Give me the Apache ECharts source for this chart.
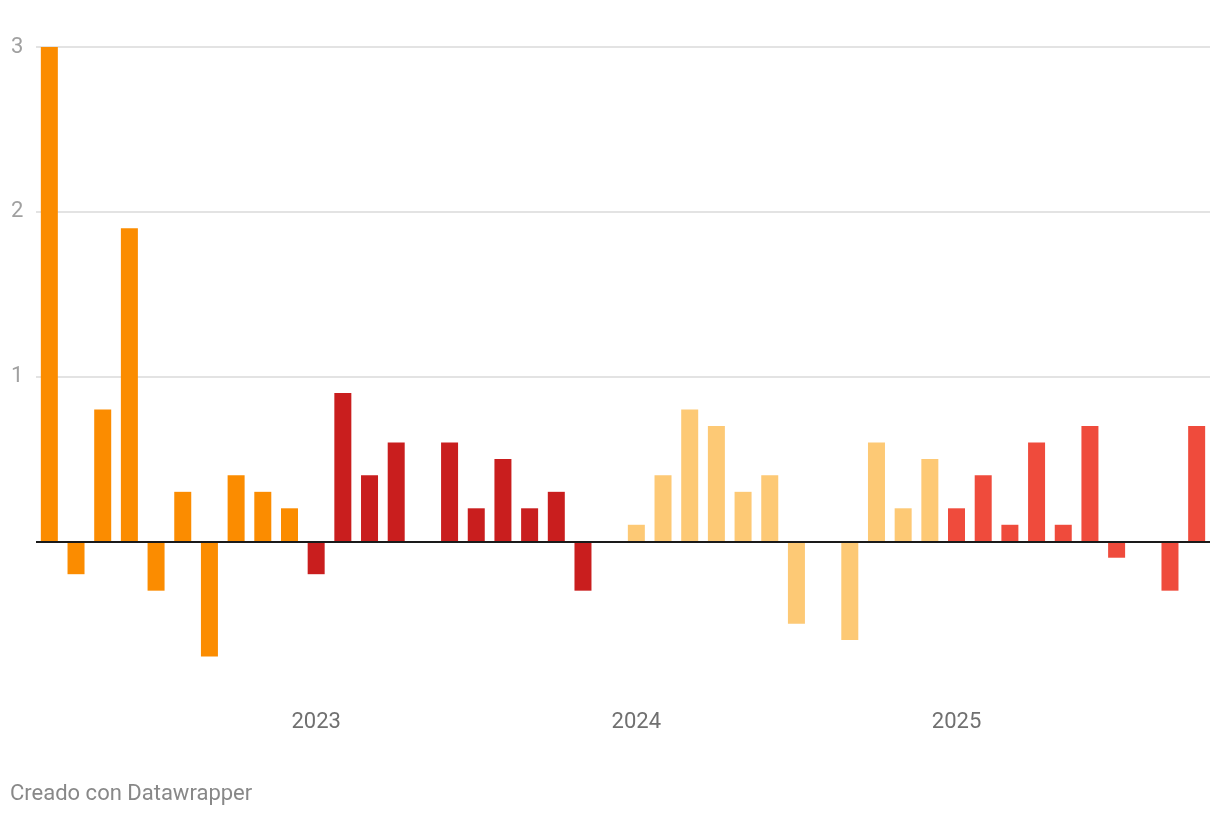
<!DOCTYPE html>
<html>
<head>
<meta charset="utf-8">
<script src="https://cdn.jsdelivr.net/npm/echarts@6/dist/echarts.min.js"></script>
<style>
html,body{margin:0;padding:0;background:#fff;}
#chart{width:1220px;height:816px;}
</style>
</head>
<body>
<div id="chart"></div>
<script>
// Monthly values, Mar 2022 – Oct 2025
const months = [
  '2022-03','2022-04','2022-05','2022-06','2022-07','2022-08','2022-09','2022-10','2022-11','2022-12',
  '2023-01','2023-02','2023-03','2023-04','2023-05','2023-06','2023-07','2023-08','2023-09','2023-10','2023-11','2023-12',
  '2024-01','2024-02','2024-03','2024-04','2024-05','2024-06','2024-07','2024-08','2024-09','2024-10','2024-11','2024-12',
  '2025-01','2025-02','2025-03','2025-04','2025-05','2025-06','2025-07','2025-08','2025-09','2025-10'
];
const values = [
  3.0, -0.2, 0.8, 1.9, -0.3, 0.3, -0.7, 0.4, 0.3, 0.2,
  -0.2, 0.9, 0.4, 0.6, 0, 0.6, 0.2, 0.5, 0.2, 0.3, -0.3, 0,
  0.1, 0.4, 0.8, 0.7, 0.3, 0.4, -0.5, 0, -0.6, 0.6, 0.2, 0.5,
  0.2, 0.4, 0.1, 0.6, 0.1, 0.7, -0.1, 0, -0.3, 0.7
];
const yearColors = {
  '2022': '#fb8c00',
  '2023': '#c91e1e',
  '2024': '#fdc975',
  '2025': '#ef4b3c'
};
const yTicks = [1, 2, 3];

const chart = echarts.init(document.getElementById('chart'));
chart.setOption({
  animation: false,
  backgroundColor: '#ffffff',
  textStyle: { fontFamily: 'Roboto' },
  grid: { left: 36, right: 10, top: 47, height: 659, containLabel: false },
  graphic: [{
    type: 'text', left: 10, top: 783,
    style: { text: 'Creado con Datawrapper', fill: '#888888', font: '22px Roboto' }
  }],
  xAxis: {
    type: 'category',
    data: months,
    axisLine: { show: false, onZero: false },
    axisTick: { show: false },
    splitLine: { show: false },
    axisLabel: {
      interval: function (i, v) { return v.slice(5) === '01'; },
      formatter: function (v) { return v.slice(0, 4); },
      color: '#707070', fontSize: 22, margin: 5
    }
  },
  yAxis: {
    type: 'value',
    min: -1, max: 3, interval: 1,
    axisLine: { show: false },
    axisTick: { show: false },
    axisLabel: {
      formatter: function (v) { return yTicks.indexOf(v) >= 0 ? String(v) : ''; },
      color: '#a0a0a0', fontSize: 22, align: 'left', margin: 25,
      padding: [3, 0, 0, 0]
    },
    splitLine: {
      lineStyle: { color: ['transparent', 'transparent', '#e3e3e3', '#e3e3e3', '#e3e3e3'], width: 2 }
    }
  },
  series: [{
    type: 'bar',
    barWidth: 17,
    data: values,
    itemStyle: {
      color: function (p) { return yearColors[months[p.dataIndex].slice(0, 4)]; }
    },
    markLine: {
      silent: true,
      symbol: 'none',
      label: { show: false },
      lineStyle: { color: '#1a1a1a', width: 2, type: 'solid' },
      data: [{ yAxis: 0 }]
    }
  }]
});
</script>
</body>
</html>
